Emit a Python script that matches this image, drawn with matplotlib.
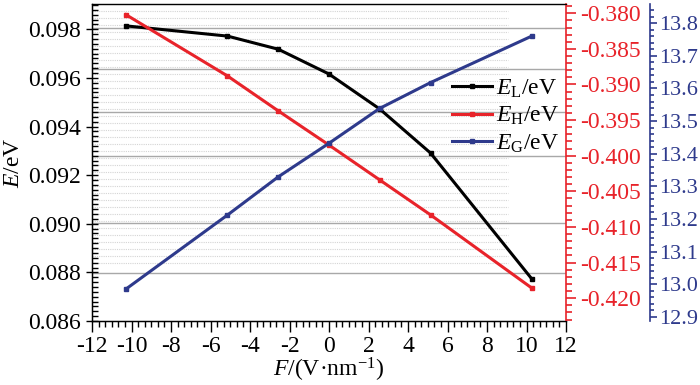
import numpy as np
import matplotlib
matplotlib.use("Agg")
import matplotlib.pyplot as plt
from matplotlib.ticker import MultipleLocator, FormatStrFormatter

plt.rcParams['font.family'] = ['Liberation Serif', 'DejaVu Serif']
plt.rcParams['mathtext.fontset'] = 'custom'
plt.rcParams['mathtext.rm'] = 'Liberation Serif'
plt.rcParams['mathtext.it'] = 'Liberation Serif:italic'
plt.rcParams['axes.unicode_minus'] = False

# 数据
F = [-10.28, -5.14, -2.57, 0.0, 2.57, 5.14, 10.28]
E_L = [0.09814, 0.09772, 0.09718, 0.09616, 0.09472, 0.09291, 0.08772]
E_H = [-0.3802, -0.3888, -0.3937, -0.3985, -0.4034, -0.4083, -0.4186]
E_G = [12.985, 13.212, 13.329, 13.432, 13.539, 13.618, 13.761]

# 网格线位置（左轴单位）
grid_major = [0.09805, 0.09637, 0.09460, 0.09279, 0.09004, 0.08798]
grid_minor = np.arange(0.09877, 0.0882, -0.000288)

c_red = '#e8232a'
c_blue = '#2e3a8c'
fs = 17

fig = plt.figure(figsize=(7, 3.85), dpi=100)
ax = fig.add_axes([92/700, 1-321/385, 474/700, 317/385])
ax2 = ax.twinx()
ax3 = ax.twinx()

# 背景网格
for g in grid_minor:
    ax.axhline(g, xmin=0, xmax=0.878, color='#d4d4d4', lw=0.8, ls=(0, (1, 1)), zorder=0)
for g in grid_major:
    ax.axhline(g, color='#a8a8a8', lw=1.0, zorder=0.5)

l1, = ax.plot(F, E_L, color='black', lw=2.2, marker='s', ms=3.5, label=r'$E_\mathrm{L}$/eV')
l2, = ax2.plot(F, E_H, color=c_red, lw=2.2, marker='s', ms=3.5, label=r'$E_\mathrm{H}$/eV')
l3, = ax3.plot(F, E_G, color=c_blue, lw=2.2, marker='s', ms=3.5, label=r'$E_\mathrm{G}$/eV')

# 坐标轴范围
ax.set_xlim(-12, 12)
ax.set_ylim(0.086, 0.09904)
ax2.set_ylim(-0.4232, -0.3787)
ax3.set_ylim(12.887, 13.859)

ax.xaxis.set_major_locator(MultipleLocator(2))
ax.xaxis.set_minor_locator(MultipleLocator(2/6))
ax.yaxis.set_major_locator(MultipleLocator(0.002))
ax.yaxis.set_minor_locator(MultipleLocator(0.0002))
ax.yaxis.set_major_formatter(FormatStrFormatter('%.3f'))
ax2.yaxis.set_major_locator(MultipleLocator(0.005))
ax2.yaxis.set_minor_locator(MultipleLocator(0.001))
ax2.yaxis.set_major_formatter(FormatStrFormatter('%.3f'))
ax3.yaxis.set_major_locator(MultipleLocator(0.1))
ax3.yaxis.set_minor_locator(MultipleLocator(0.02))
ax3.yaxis.set_major_formatter(FormatStrFormatter('%.1f'))

ax3.spines['right'].set_position(('axes', (650-92)/474))

for s in ['left', 'bottom', 'top']:
    ax.spines[s].set_color('black')
    ax.spines[s].set_linewidth(1.0)
ax.spines['top'].set_color('#333333')
ax2.spines['right'].set_color(c_red)
ax2.spines['right'].set_linewidth(1.2)
ax3.spines['right'].set_color(c_blue)
ax3.spines['right'].set_linewidth(1.2)
ax.spines['right'].set_visible(False)
ax3.spines['left'].set_visible(False)
ax3.spines['top'].set_visible(False)
ax3.spines['bottom'].set_visible(False)

ax.tick_params(axis='x', which='major', direction='out', length=8, width=1, labelsize=fs, pad=3)
ax.tick_params(axis='x', which='minor', direction='out', length=4, width=1)
ax.tick_params(axis='y', which='major', direction='inout', length=8, width=1, labelsize=fs, pad=4)
ax.tick_params(axis='y', which='minor', direction='in', length=4, width=1)
ax2.tick_params(axis='y', which='major', direction='out', length=7, width=1.2,
                colors=c_red, labelsize=fs, pad=3)
ax2.tick_params(axis='y', which='minor', direction='out', length=4, width=1.2, colors=c_red)
ax3.tick_params(axis='y', which='major', direction='out', length=5, width=1.2,
                colors=c_blue, labelsize=16, pad=1.5)
ax3.tick_params(axis='y', which='minor', direction='out', length=3, width=1.2, colors=c_blue)

ax.set_xlabel(r'$F$/(V·nm$^{-1}$)', fontsize=fs, labelpad=-1)
ax.set_ylabel(r'$E$/eV', fontsize=fs, labelpad=3)

ax3.legend(handles=[l1, l2, l3], loc='upper left', bbox_to_anchor=((452-92)/474, 0.768),
           frameon=False, fontsize=fs, handlelength=1.7, handletextpad=0.15,
           labelspacing=0.22, borderpad=0, borderaxespad=0)

fig.savefig('out.png', dpi=100)
